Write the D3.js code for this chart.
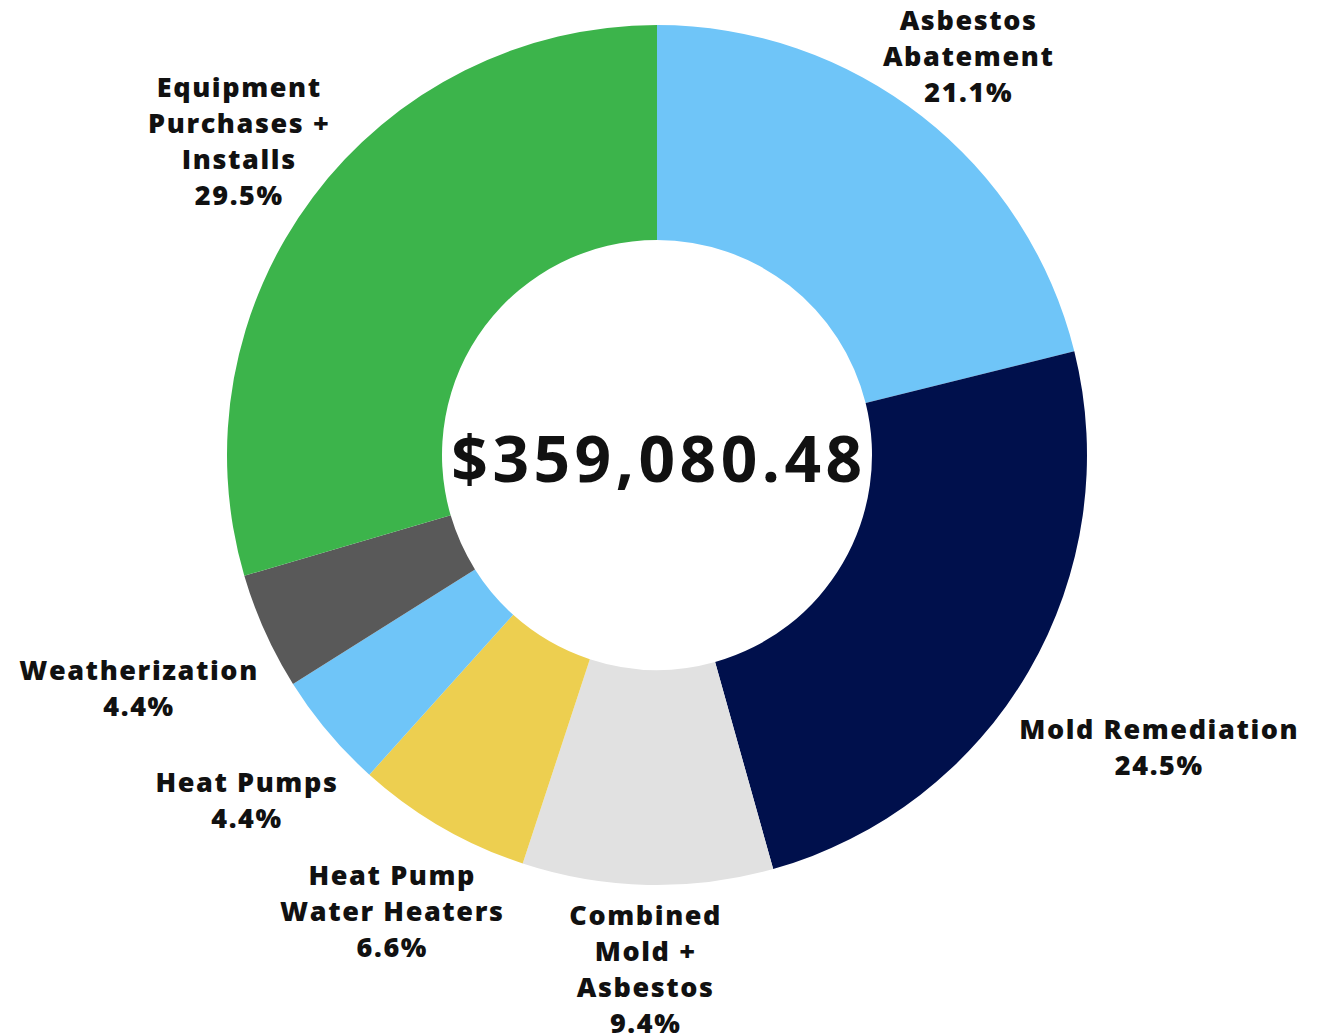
<!DOCTYPE html>
<html lang="en">
<head>
    <title>Spending breakdown</title>
    <script src="https://d3js.org/d3.v7.min.js"></script>
    <style>
        body{
            margin: 0;
            background-color: #fff;
        }

        text.label{
            font-family: 'Open Sans', sans-serif;
            font-weight: 800;
            font-size: 27px;
            fill: #111;
            text-anchor: middle;
            letter-spacing: 1.6px;
        }

        text.total{
            font-family: 'Open Sans', sans-serif;
            font-weight: 700;
            font-size: 64px;
            fill: #111;
            text-anchor: middle;
            letter-spacing: 4.5px;
        }
    </style>
</head>
<body>
    <div id="my_dataviz"></div>

    <script>

    // data, clockwise from 12 o'clock
    var categories = ["Asbestos Abatement", "Mold Remediation", "Combined Mold + Asbestos",
        "Heat Pump Water Heaters", "Heat Pumps", "Weatherization", "Equipment Purchases + Installs"]
    var labelLines = [["Asbestos", "Abatement"], ["Mold Remediation"], ["Combined", "Mold +", "Asbestos"],
        ["Heat Pump", "Water Heaters"], ["Heat Pumps"], ["Weatherization"], ["Equipment", "Purchases +", "Installs"]]
    var shares = [21.1, 24.5, 9.4, 6.6, 4.4, 4.4, 29.5]
    var colors = ["#6FC5F8", "#00104C", "#E1E1E1", "#EDCF50", "#6FC5F8", "#595959", "#3CB44B"]
    var totalLabel = "$359,080.48"

    // layout
    var width = 1322
    var height = 1035
    var cx = 657, cy = 455
    var outerR = 430, innerR = 215
    var labelR = [506, 581, 515, 528, 536, 568, 522]  // distance of each label from the centre
    var lineHeight = 36

    var svg = d3.select("#my_dataviz")
      .append("svg")
        .attr("width", width)
        .attr("height", height)

    var data = categories.map((c, i) => ({name: c, value: shares[i], lines: labelLines[i], color: colors[i], lr: labelR[i]}))

    var pie = d3.pie()
        .sort(null)
        .value(d => d.value)

    var arc = d3.arc()
        .innerRadius(innerR)
        .outerRadius(outerR)

    var g = svg.append("g")
        .attr("transform", "translate(" + cx + "," + cy + ")")

    var arcs = pie(data)

    g.selectAll("path.slice")
      .data(arcs)
      .enter()
      .append("path")
        .attr("class", "slice")
        .attr("d", arc)
        .attr("fill", d => d.data.color)

    // labels sit on the mid-angle of each slice
    var labels = g.selectAll("text.label")
      .data(arcs)
      .enter()
      .append("text")
        .attr("class", "label")
        .attr("transform", function(d){
            var a = (d.startAngle + d.endAngle) / 2
            var x = Math.sin(a) * d.data.lr
            var y = -Math.cos(a) * d.data.lr
            return "translate(" + x + "," + y + ")"
        })

    labels.each(function(d){
        var lines = d.data.lines.concat([d.data.value.toFixed(1) + "%"])
        var n = lines.length
        var t = d3.select(this)
        lines.forEach(function(l, i){
            t.append("tspan")
                .attr("x", 0)
                .attr("y", (i - (n - 1) / 2) * lineHeight)
                .attr("dy", "0.35em")
                .text(l)
        })
    })

    g.append("text")
        .attr("class", "total")
        .attr("x", 2)
        .attr("y", 5)
        .attr("dy", "0.35em")
        .text(totalLabel)

    </script>
</body>
</html>
